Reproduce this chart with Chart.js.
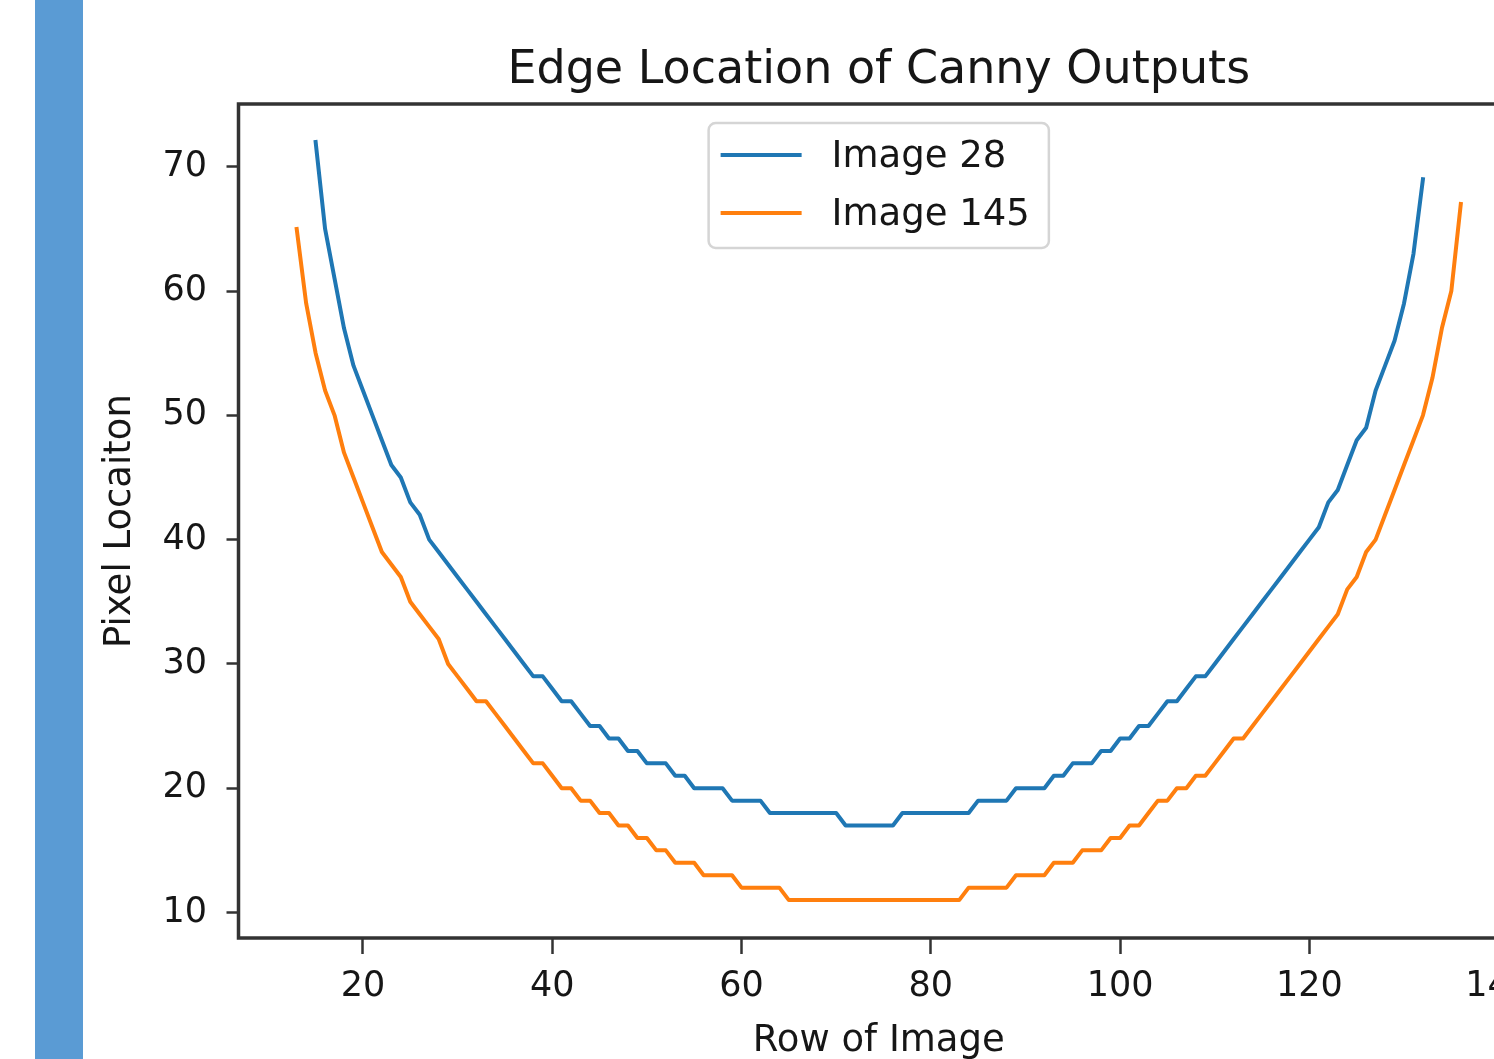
<!DOCTYPE html>
<html>
<head>
<meta charset="utf-8">
<script src="https://cdn.jsdelivr.net/npm/chart.js@4.4.1/dist/chart.umd.min.js"></script>
<style>
html,body{margin:0;padding:0;width:1494px;height:1059px;overflow:hidden;background:#fff;}
#wrap{position:absolute;left:0;top:0;width:1560px;height:1080px;}
#bar{position:absolute;left:35px;top:0;width:48px;height:1059px;background:#5a9bd4;}
</style>
</head>
<body>
<div id="wrap"><canvas id="c" width="1560" height="1080"></canvas></div>
<div id="bar"></div>
<script>
// ---- data ----
const chartTitle = 'Edge Location of Canny Outputs';
const xTitle = 'Row of Image';
const yTitle = 'Pixel Locaiton';
const seriesLabels = ['Image 28', 'Image 145'];
const xTicks = [20, 40, 60, 80, 100, 120, 140];
const yTicks = [10, 20, 30, 40, 50, 60, 70];

const rowsImage28 = [
  15,16,17,18,19,20,21,22,23,24,
  25,26,27,28,29,30,31,32,33,34,
  35,36,37,38,39,40,41,42,43,44,
  45,46,47,48,49,50,51,52,53,54,
  55,56,57,58,59,60,61,62,63,64,
  65,66,67,68,69,70,71,72,73,74,
  75,76,77,78,79,80,81,82,83,84,
  85,86,87,88,89,90,91,92,93,94,
  95,96,97,98,99,100,101,102,103,104,
  105,106,107,108,109,110,111,112,113,114,
  115,116,117,118,119,120,121,122,123,124,
  125,126,127,128,129,130,131,132
];
const edgeImage28 = [
  72,65,61,57,54,52,50,48,46,45,
  43,42,40,39,38,37,36,35,34,33,
  32,31,30,29,29,28,27,27,26,25,
  25,24,24,23,23,22,22,22,21,21,
  20,20,20,20,19,19,19,19,18,18,
  18,18,18,18,18,18,17,17,17,17,
  17,17,18,18,18,18,18,18,18,18,
  19,19,19,19,20,20,20,20,21,21,
  22,22,22,23,23,24,24,25,25,26,
  27,27,28,29,29,30,31,32,33,34,
  35,36,37,38,39,40,41,43,44,46,
  48,49,52,54,56,59,63,69
];

const rowsImage145 = [
  13,14,15,16,17,18,19,20,21,22,
  23,24,25,26,27,28,29,30,31,32,
  33,34,35,36,37,38,39,40,41,42,
  43,44,45,46,47,48,49,50,51,52,
  53,54,55,56,57,58,59,60,61,62,
  63,64,65,66,67,68,69,70,71,72,
  73,74,75,76,77,78,79,80,81,82,
  83,84,85,86,87,88,89,90,91,92,
  93,94,95,96,97,98,99,100,101,102,
  103,104,105,106,107,108,109,110,111,112,
  113,114,115,116,117,118,119,120,121,122,
  123,124,125,126,127,128,129,130,131,132,
  133,134,135,136
];
const edgeImage145 = [
  65,59,55,52,50,47,45,43,41,39,
  38,37,35,34,33,32,30,29,28,27,
  27,26,25,24,23,22,22,21,20,20,
  19,19,18,18,17,17,16,16,15,15,
  14,14,14,13,13,13,13,12,12,12,
  12,12,11,11,11,11,11,11,11,11,
  11,11,11,11,11,11,11,11,11,11,
  11,12,12,12,12,12,13,13,13,13,
  14,14,14,15,15,15,16,16,17,17,
  18,19,19,20,20,21,21,22,23,24,
  24,25,26,27,28,29,30,31,32,33,
  34,36,37,39,40,42,44,46,48,50,
  53,57,60,67
];

// ---- styling ----
const FONT = '"DejaVu Sans", "Liberation Sans", sans-serif';
const TEXT = '#161616';
const SPINE = '#333333';
const COLORS = ['#1f77b4', '#ff7f0e'];

const toPoints = (xs, ys) => xs.map((x, i) => ({ x: x, y: ys[i] }));

const framePlugin = {
  id: 'frame',
  afterDatasetsDraw(chart) {
    const { ctx, chartArea: a } = chart;
    ctx.save();
    ctx.strokeStyle = SPINE;
    ctx.lineWidth = 3.5;
    ctx.strokeRect(a.left, a.top, a.right - a.left, a.bottom - a.top);
    ctx.restore();
  }
};

const legendPlugin = {
  id: 'boxLegend',
  afterDraw(chart) {
    const { ctx, chartArea: a } = chart;
    const ds = chart.data.datasets;
    ctx.save();
    ctx.font = '37px ' + FONT;
    const textW = Math.max(...ds.map(d => ctx.measureText(d.label).width));
    const padL = 12, lineLen = 81, gap = 30, padR = 19, rowH = 58, padT = 32, padB = 35;
    const w = padL + lineLen + gap + textW + padR;
    const h = padT + rowH * (ds.length - 1) + padB;
    const x0 = (a.left + a.right) / 2 - w / 2;
    const y0 = a.top + 19;
    ctx.fillStyle = 'rgba(255,255,255,0.8)';
    ctx.strokeStyle = '#d5d5d5';
    ctx.lineWidth = 2.5;
    ctx.beginPath();
    ctx.roundRect(x0, y0, w, h, 7);
    ctx.fill();
    ctx.stroke();
    ds.forEach((d, i) => {
      const y = y0 + padT + i * rowH;
      ctx.strokeStyle = d.borderColor;
      ctx.lineWidth = 4;
      ctx.lineCap = 'butt';
      ctx.beginPath();
      ctx.moveTo(x0 + padL, y);
      ctx.lineTo(x0 + padL + lineLen, y);
      ctx.stroke();
      ctx.fillStyle = TEXT;
      ctx.textBaseline = 'middle';
      ctx.textAlign = 'left';
      ctx.fillText(d.label, x0 + padL + lineLen + gap, y + 2);
    });
    ctx.restore();
  }
};

const lineDs = (label, xs, ys, color) => ({
  label: label,
  data: toPoints(xs, ys),
  borderColor: color,
  backgroundColor: color,
  borderWidth: 4,
  pointRadius: 0,
  pointHoverRadius: 0,
  tension: 0,
  fill: false,
  borderCapStyle: 'square',
  borderJoinStyle: 'round'
});

new Chart(document.getElementById('c'), {
  type: 'line',
  data: {
    datasets: [
      lineDs(seriesLabels[0], rowsImage28, edgeImage28, COLORS[0]),
      lineDs(seriesLabels[1], rowsImage145, edgeImage145, COLORS[1])
    ]
  },
  options: {
    responsive: false,
    animation: false,
    events: [],
    layout: { padding: { left: 80, right: 41, top: 0, bottom: 0 } },
    plugins: {
      legend: { display: false },
      tooltip: { enabled: false },
      title: {
        display: true,
        text: chartTitle,
        fullSize: false,
        color: TEXT,
        font: { family: FONT, size: 46, weight: 'normal', lineHeight: 1.2 },
        padding: { top: 43, bottom: 5.8 }
      }
    },
    scales: {
      x: {
        type: 'linear',
        min: 6.85,
        max: 142.15,
        afterFit(s) { s.height = 142; },
        afterBuildTicks(s) { s.ticks = xTicks.map(v => ({ value: v })); },
        grid: { drawOnChartArea: false, drawTicks: true, tickLength: 16, tickWidth: 2.5, tickColor: SPINE },
        border: { display: false },
        ticks: { color: TEXT, font: { family: FONT, size: 35 }, padding: 12, maxRotation: 0, autoSkip: false },
        title: { display: true, text: xTitle, color: TEXT, font: { family: FONT, size: 37, lineHeight: 1.2 }, padding: { top: 0, bottom: 16 } }
      },
      y: {
        type: 'linear',
        min: 7.95,
        max: 75.05,
        afterFit(s) { s.width = 158.5; },
        afterBuildTicks(s) { s.ticks = yTicks.map(v => ({ value: v })); },
        grid: { drawOnChartArea: false, drawTicks: true, tickLength: 12, tickWidth: 2.5, tickColor: SPINE },
        border: { display: false },
        ticks: { color: TEXT, font: { family: FONT, size: 35 }, padding: 19.5, autoSkip: false },
        title: { display: true, text: yTitle, color: TEXT, font: { family: FONT, size: 37, lineHeight: 1.2 }, padding: { top: 18, bottom: 0 } }
      }
    }
  },
  plugins: [framePlugin, legendPlugin]
});
</script>
</body>
</html>
